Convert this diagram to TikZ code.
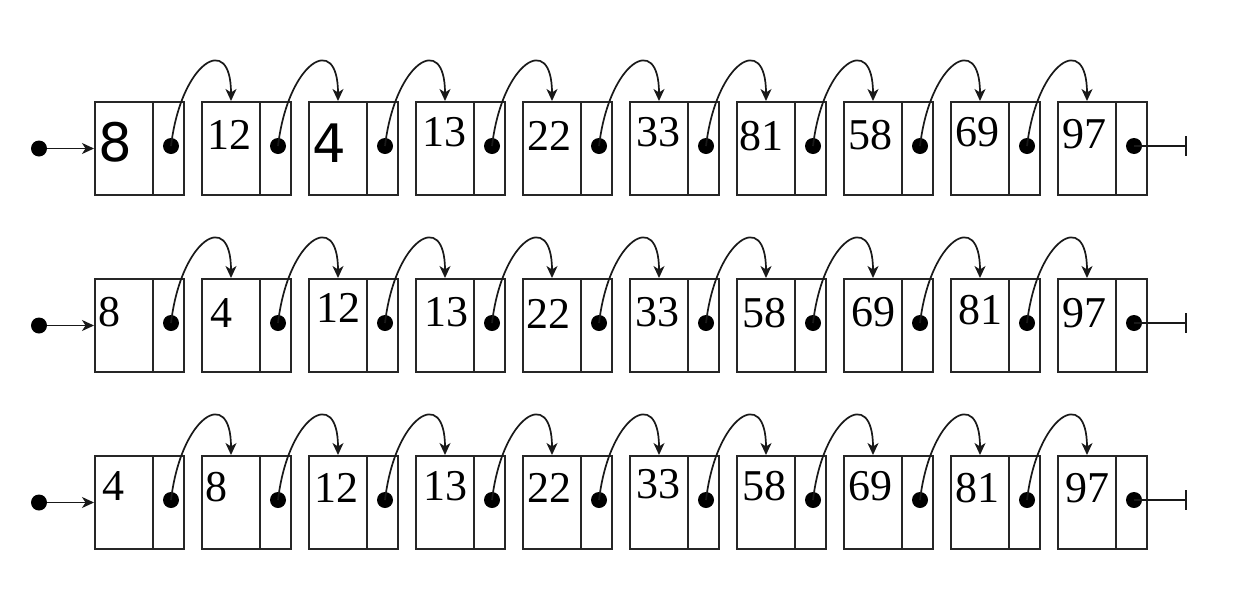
\documentclass[tikz,border=0pt]{standalone}
\usepackage{fontspec}
\setmainfont{Liberation Serif}
\newfontfamily\bigsans{DejaVu Sans}
\usetikzlibrary{arrows.meta}

\begin{document}
\begin{tikzpicture}[x=1pt, y=-1pt,
    datacell/.style={draw=black!85, line width=2pt, inner sep=0, minimum width=58, minimum height=93},
    ptrcell/.style={draw=black!85, line width=2pt, inner sep=0, minimum width=31, minimum height=93},
    dot/.style={circle, fill=black, inner sep=0, minimum size=16},
    val/.style={inner sep=0, font=\fontsize{44}{50}\selectfont},
    bigval/.style={inner sep=0, font=\bigsans\fontsize{53}{60}\selectfont},
    link/.style={draw=black!90, line width=1.7pt, -{Stealth[length=12pt, width=11pt, inset=3.5pt]}},
    nil/.style={draw=black!90, line width=1.7pt, -{Bar[width=20pt, line width=1.8pt]}}]
  \useasboundingbox (0,0) rectangle (1243,603);
  % cells, pointer dots, head dot and nil end of each list
  \foreach \r in {0,1,2} {
    \foreach \i in {0,...,9} {
      \node[datacell] (d\r-\i) at ({124+107*\i},{148.5+177*\r}) {};
      \node[ptrcell] (p\r-\i) at ({168.5+107*\i},{148.5+177*\r}) {};
      \node[dot] (c\r-\i) at ({171+107*\i},{146+177*\r}) {};
    }
    \node[dot] (s\r) at (39,{148.5+177*\r}) {};
    \coordinate (e\r) at (1187,{146+177*\r});
  }
  % values
  \foreach \v/\x/\y/\s [count=\k] in {8/115/142/bigval, 12/229/135/val, 4/329/143/bigval, 13/444/132/val,
      22/549/136/val, 33/658/132/val, 81/761/136/val, 58/870/135/val, 69/977/132/val, 97/1084/134/val}
    \node[\s] (v0-\k) at (\x,\y) {\v};
  \foreach \v/\x/\y [count=\k] in {8/109/312, 4/221/313, 12/338/308, 13/446/312, 22/548/314,
      33/657/312, 58/764/313, 69/873/312, 81/980/310, 97/1084/313}
    \node[val] (v1-\k) at (\x,\y) {\v};
  \foreach \v/\x/\y [count=\k] in {4/113/486, 8/216/487, 12/336/488, 13/445/486, 22/549/488,
      33/658/484, 58/764/486, 69/870/486, 81/977/488, 97/1087/488}
    \node[val] (v2-\k) at (\x,\y) {\v};
  % links
  \foreach \r in {0,1,2} {
    \draw[link] (s\r) -- (d\r-0.west);
    \foreach \i [evaluate=\i as \j using int(\i+1)] in {0,...,8}
      \draw[link] (c\r-\i.center) .. controls +(10,-84) and +(0,-70) .. (d\r-\j.north);
    \draw[nil] (c\r-9.center) -- (e\r);
  }
\end{tikzpicture}
\end{document}
